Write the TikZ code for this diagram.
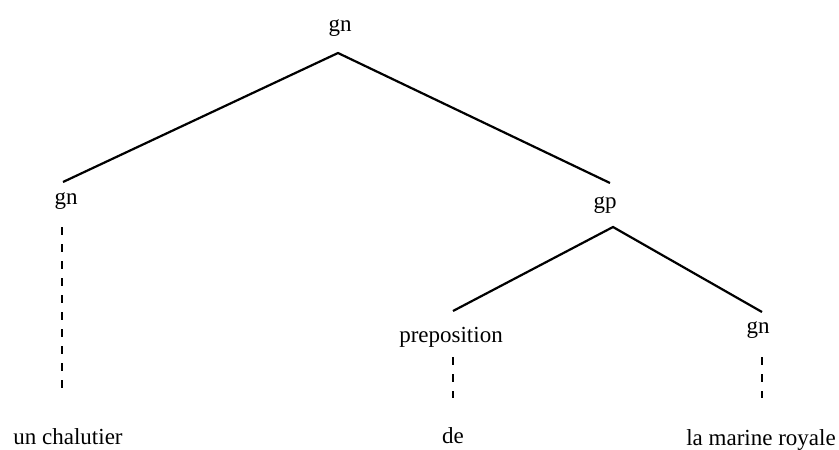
\documentclass[tikz,border=0pt]{standalone}
\usepackage{fontspec}
\setmainfont{Liberation Serif}
\begin{document}
\begin{tikzpicture}[x=1pt,y=-1pt,
  lbl/.style={font=\fontsize{23}{27}\selectfont, inner sep=0pt, anchor=base},
  branch/.style={line width=2.2pt, line join=miter},
  trace/.style={line width=2.2pt, dash pattern=on 8pt off 9pt}]
\useasboundingbox (0,0) rectangle (839,450);
% labels
\node[lbl] (root) at (340,31) {gn};
\node[lbl] (gnL) at (66,204) {gn};
\node[lbl] (gp) at (605,208) {gp};
\node[lbl] (prep) at (451,342) {preposition};
\node[lbl] (gnR) at (758,333) {gn};
\node[lbl] (w1) at (68,444) {un chalutier};
\node[lbl] (w2) at (453,443) {de};
\node[lbl] (w3) at (761,445) {la marine royale};
% branch points
\coordinate (rootfoot) at (338,53);
\coordinate (gnLtop) at (63,182);
\coordinate (gptop) at (610,183);
\coordinate (gpfoot) at (613,227);
\coordinate (preptop) at (453,311);
\coordinate (gnRtop) at (762,312);
\coordinate (gnLfoot) at (62,227);
\coordinate (w1top) at (62,392);
\coordinate (prepfoot) at (453,357);
\coordinate (w2top) at (453,398);
\coordinate (gnRfoot) at (762,357);
\coordinate (w3top) at (762,398);
% solid branches
\draw[branch] (gnLtop) -- (rootfoot) -- (gptop);
\draw[branch] (preptop) -- (gpfoot) -- (gnRtop);
% dashed traces
\draw[trace] (gnLfoot) -- (w1top);
\draw[trace] (prepfoot) -- (w2top);
\draw[trace] (gnRfoot) -- (w3top);
\end{tikzpicture}
\end{document}
